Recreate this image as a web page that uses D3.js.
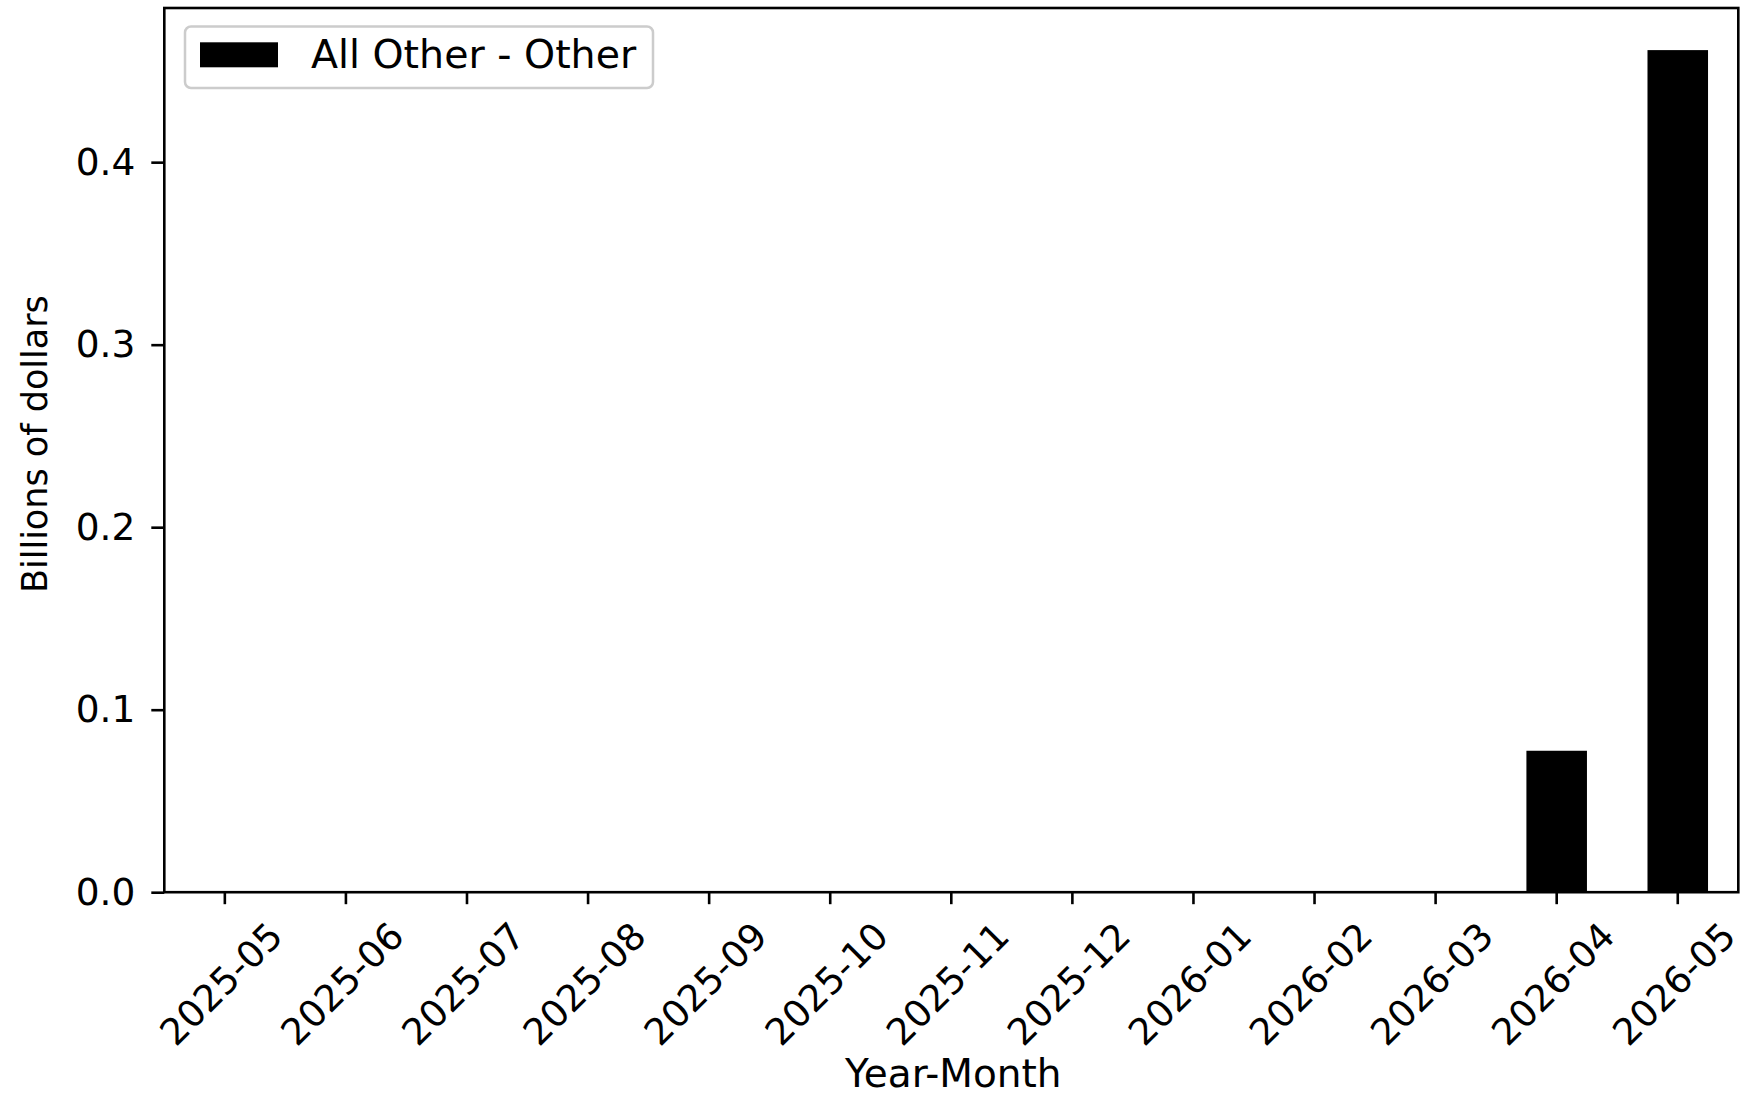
<!DOCTYPE html>
<html>
<head>
<meta charset="utf-8">
<script src="https://cdn.jsdelivr.net/npm/d3@7"></script>
<style>
  html, body { margin: 0; padding: 0; background: #fff; }
  svg { display: block; font-family: "DejaVu Sans", sans-serif; }
</style>
</head>
<body>
<script>
const categories = ["2025-05","2025-06","2025-07","2025-08","2025-09","2025-10","2025-11","2025-12","2026-01","2026-02","2026-03","2026-04","2026-05"];
const values = [0, 0, 0, 0, 0, 0, 0, 0, 0, 0, 0, 0.0775, 0.4614];
const seriesName = "All Other - Other";
const yTicks = [0.0, 0.1, 0.2, 0.3, 0.4];
const yLabel = "Billions of dollars";
const xLabel = "Year-Month";

const W = 1754, H = 1096;
const plot = { left: 164.3, right: 1738.3, top: 8, bottom: 892.2 };

const svg = d3.select("body").append("svg").attr("width", W).attr("height", H);

const x = d3.scaleBand().domain(categories)
  .range([plot.left, plot.right]).paddingInner(0.5).paddingOuter(0.25);
const y = d3.scaleLinear().domain([0, d3.max(values) * 1.05])
  .range([plot.bottom, plot.top]);

// bars
svg.append("g").selectAll("rect").data(categories.map((c, i) => ({ c, v: values[i] })))
  .join("rect")
  .attr("x", d => x(d.c))
  .attr("width", x.bandwidth())
  .attr("y", d => y(d.v))
  .attr("height", d => y(0) - y(d.v))
  .attr("fill", "#000");

// y axis
const yAxis = svg.append("g").attr("transform", `translate(${plot.left},0)`)
  .call(d3.axisLeft(y).tickValues(yTicks).tickFormat(d3.format(".1f")).tickSize(13).tickPadding(16));
yAxis.select(".domain").remove();
yAxis.selectAll(".tick line").attr("stroke", "#000").attr("stroke-width", 2.6);
yAxis.selectAll(".tick text").attr("font-size", 37.5).attr("fill", "#000")
  .attr("font-family", "DejaVu Sans");

// x axis
const xAxis = svg.append("g").attr("transform", `translate(0,${plot.bottom})`)
  .call(d3.axisBottom(x).tickSize(12).tickPadding(0));
xAxis.select(".domain").remove();
xAxis.selectAll(".tick line").attr("stroke", "#000").attr("stroke-width", 2.6);
xAxis.selectAll(".tick text")
  .attr("font-size", 37).attr("fill", "#000").attr("font-family", "DejaVu Sans")
  .attr("x", 0).attr("y", 0).attr("dy", "0.35em")
  .attr("text-anchor", "end")
  .attr("transform", "translate(51,37) rotate(-45)");

// frame
svg.append("rect")
  .attr("x", plot.left).attr("y", plot.top)
  .attr("width", plot.right - plot.left).attr("height", plot.bottom - plot.top)
  .attr("fill", "none").attr("stroke", "#000").attr("stroke-width", 2.6);

// axis labels
svg.append("text")
  .attr("transform", `translate(46.7,${(plot.top + plot.bottom) / 2 - 6}) rotate(-90)`)
  .attr("text-anchor", "middle").attr("font-size", 35).attr("fill", "#000")
  .text(yLabel);
svg.append("text")
  .attr("x", (plot.left + plot.right) / 2 + 2).attr("y", 1086.7)
  .attr("text-anchor", "middle").attr("font-size", 39).attr("fill", "#000")
  .text(xLabel);

// legend
const lg = svg.append("g");
lg.append("rect").attr("x", 185).attr("y", 26.5).attr("width", 468).attr("height", 61.5)
  .attr("rx", 6).attr("fill", "#fff").attr("fill-opacity", 0.8)
  .attr("stroke", "#cccccc").attr("stroke-width", 2.5);
lg.append("rect").attr("x", 200).attr("y", 42.3).attr("width", 78).attr("height", 25)
  .attr("fill", "#000");
lg.append("text").attr("x", 311).attr("y", 68.3).attr("font-size", 39.5).attr("fill", "#000")
  .text(seriesName);
</script>
</body>
</html>
